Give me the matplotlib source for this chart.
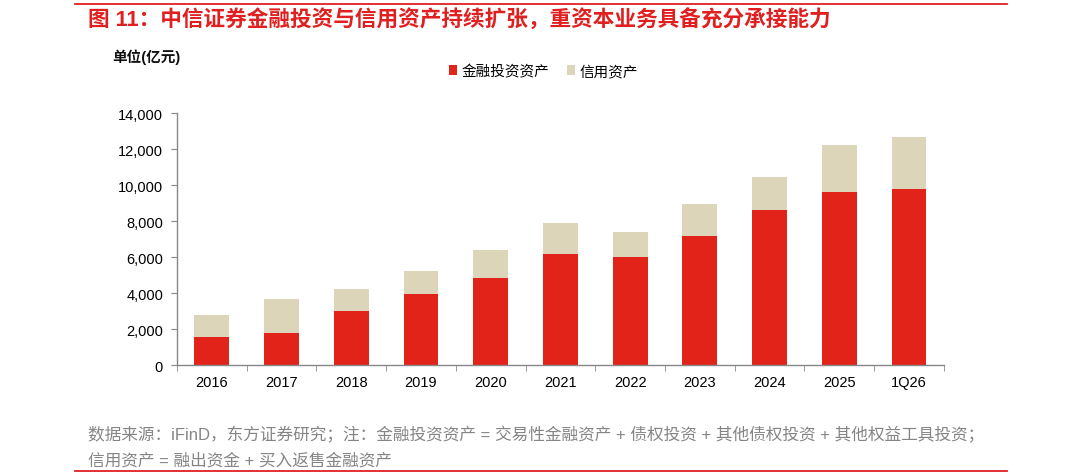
import matplotlib
matplotlib.use("Agg")
import matplotlib.pyplot as plt
import numpy as np

plt.rcParams['font.family'] = ['Liberation Sans', 'Noto Sans CJK SC', 'DejaVu Sans']

categories = ["2016", "2017", "2018", "2019", "2020", "2021", "2022", "2023", "2024", "2025", "1Q26"]
fin_invest = [1570, 1780, 3000, 3960, 4850, 6170, 6020, 7180, 8630, 9590, 9780]
total_assets = [2810, 3670, 4220, 5240, 6410, 7910, 7410, 8960, 10440, 12220, 12680]
credit = [t - f for t, f in zip(total_assets, fin_invest)]
yticks = [0, 2000, 4000, 6000, 8000, 10000, 12000, 14000]

RED = "#E2231A"
BEIGE = "#DDD5BA"
AXC = "#888888"

fig = plt.figure(figsize=(10.8, 4.77), dpi=100)
ax = fig.add_axes([0.1639, 0.232, 0.874 - 0.1639, 0.761 - 0.232])

x = np.arange(len(categories))
ax.bar(x, fin_invest, width=0.5, color=RED, label="金融投资资产", zorder=2)
ax.bar(x, credit, width=0.5, bottom=fin_invest, color=BEIGE, label="信用资产", zorder=2)

ax.set_xlim(-0.5, len(categories) - 0.5)
ax.set_ylim(0, 14000)
ax.set_yticks(yticks)
ax.set_yticklabels([f"{v:,}" for v in yticks], fontsize=10.5)
ax.set_xticks(x)
ax.set_xticklabels(categories, fontsize=10.5)
ax.tick_params(axis='x', length=0, pad=7)
ax.set_xticks(np.arange(-0.5, len(categories)), minor=True)
ax.tick_params(axis='x', which='minor', length=4, color=AXC, direction='out')
ax.tick_params(axis='y', length=4, color=AXC, direction='out', pad=6)
for s in ['top', 'right']:
    ax.spines[s].set_visible(False)
for s in ['left', 'bottom']:
    ax.spines[s].set_color(AXC)
    ax.spines[s].set_linewidth(1)

# legend
fig.legend(loc='center', bbox_to_anchor=(0.503, 0.849), ncol=2, frameon=False,
           fontsize=10.5, handlelength=0.55, handleheight=0.7, handletextpad=0.3,
           columnspacing=1.2)

# unit label
fig.text(112 / 1080, 1 - 57 / 477, "单位(亿元)", fontsize=10.5, fontweight='bold',
         ha='left', va='center', color="#111111")

# title
fig.text(88 / 1080, 1 - 21 / 477, "图 11：中信证券金融投资与信用资产持续扩张，重资本业务具备充分承接能力",
         fontsize=15.6, fontweight='bold', color="#E02020", ha='left', va='center')

# lines
fig.add_artist(plt.Line2D([75 / 1080, 1007 / 1080], [1 - 5 / 477, 1 - 5 / 477],
                          color="#E02020", linewidth=1.3))
fig.add_artist(plt.Line2D([75 / 1080, 1007 / 1080], [1 - 472 / 477, 1 - 472 / 477],
                          color="#E02020", linewidth=1.3))

# footer
foot1 = "数据来源：iFinD，东方证券研究；注：金融投资资产 = 交易性金融资产 + 债权投资 + 其他债权投资 + 其他权益工具投资；"
foot2 = "信用资产 = 融出资金 + 买入返售金融资产"
fig.text(88 / 1080, 1 - 435 / 477, foot1, fontsize=12, color="#858585", ha='left', va='center')
fig.text(88 / 1080, 1 - 461 / 477, foot2, fontsize=12, color="#858585", ha='left', va='center')

fig.savefig("out.png", dpi=100)
